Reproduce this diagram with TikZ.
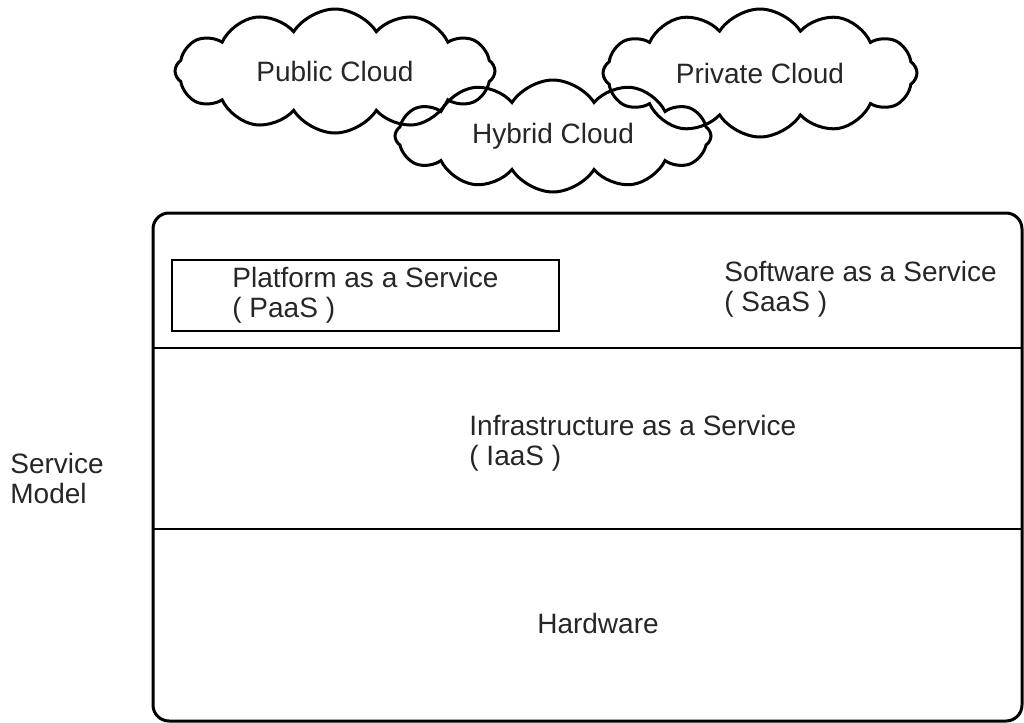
\documentclass[tikz,border=0pt]{standalone}
\usepackage{fontspec}
\setmainfont{Liberation Sans}
\usetikzlibrary{shapes.symbols}

\tikzset{
  lbl/.style={text=black!85, align=left, inner sep=0pt, font=\fontsize{14}{15}\selectfont},
  cloudnode/.style={shape=cloud, draw=black, line width=1.5pt, cloud puffs=12, cloud puff arc=115, cloud ignores aspect, lbl},
  layerline/.style={line width=1pt},
}

\begin{document}
\begin{tikzpicture}[x=0.5pt,y=-0.5pt]
	\useasboundingbox (0,0) rectangle (1024,723);

	% deployment models
	\node[cloudnode, minimum width=160pt, minimum height=62pt] (public)  at (335,71)  {Public Cloud};
	\node[cloudnode, minimum width=158pt, minimum height=56pt] (hybrid)  at (553,136) {Hybrid Cloud};
	\node[cloudnode, minimum width=157pt, minimum height=64pt] (private) at (760,73)  {Private Cloud};

	% service model stack
	\draw[line width=1.5pt, rounded corners=8pt] (153,213) rectangle (1022,721);
	\coordinate (l1) at (153,348);
	\coordinate (r1) at (1022,348);
	\coordinate (l2) at (153,529);
	\coordinate (r2) at (1022,529);
	\draw[layerline] (l1) -- (r1);
	\draw[layerline] (l2) -- (r2);
	\draw[layerline] (172,260) rectangle (559,331);

	% last line sits on the given baseline
	\node[lbl, anchor=base west] (paas)  at (232,317) {Platform as a Service\\( PaaS )};
	\node[lbl, anchor=base west] (saas)  at (724,311) {Software as a Service\\( SaaS )};
	\node[lbl, anchor=base west] (iaas)  at (469,465) {Infrastructure as a Service\\( IaaS )};
	\node[lbl, anchor=base]      (hw)    at (598,633) {Hardware};
	\node[lbl, anchor=base west] (model) at (10,503)  {Service\\Model};

\end{tikzpicture}
\end{document}
